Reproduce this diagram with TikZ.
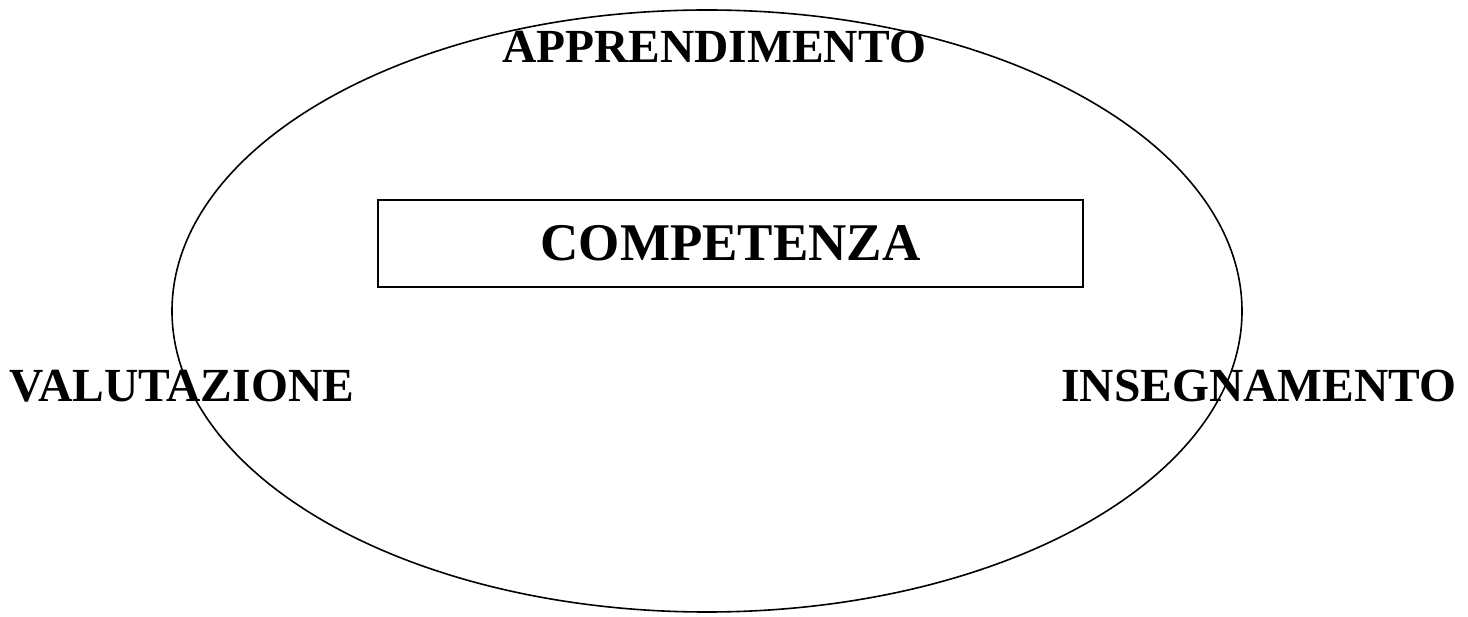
\documentclass[tikz,border=0pt]{standalone}
\usepackage{fontspec}
\setmainfont{Liberation Serif}
\usetikzlibrary{positioning}

\begin{document}
\begin{tikzpicture}[x=1pt, y=-1pt,
		label/.style = {font=\fontsize{47.5}{52}\selectfont\bfseries, inner sep=0pt, anchor=base},
		core/.style  = {draw, line width=1.6pt, minimum width=705pt, minimum height=87pt, font=\fontsize{53}{58}\selectfont\bfseries},
		ring/.style  = {draw, line width=1.6pt}]
		
		\useasboundingbox (0,0) rectangle (1468,617);
		
		% the big ring round everything
		\draw[ring] (707,311) ellipse [x radius=535pt, y radius=301pt];
		
		% centre box
		\node[core] (comp) at (730.5,243.5) {COMPETENZA};
		
		% the three words on the ring
		\node[label] (appr) at (714,63) {APPRENDIMENTO};
		\node[label] (valu) at (182,402) {VALUTAZIONE};
		\node[label] (inse) at (1259,402) {INSEGNAMENTO};
		
	\end{tikzpicture}
\end{document}
